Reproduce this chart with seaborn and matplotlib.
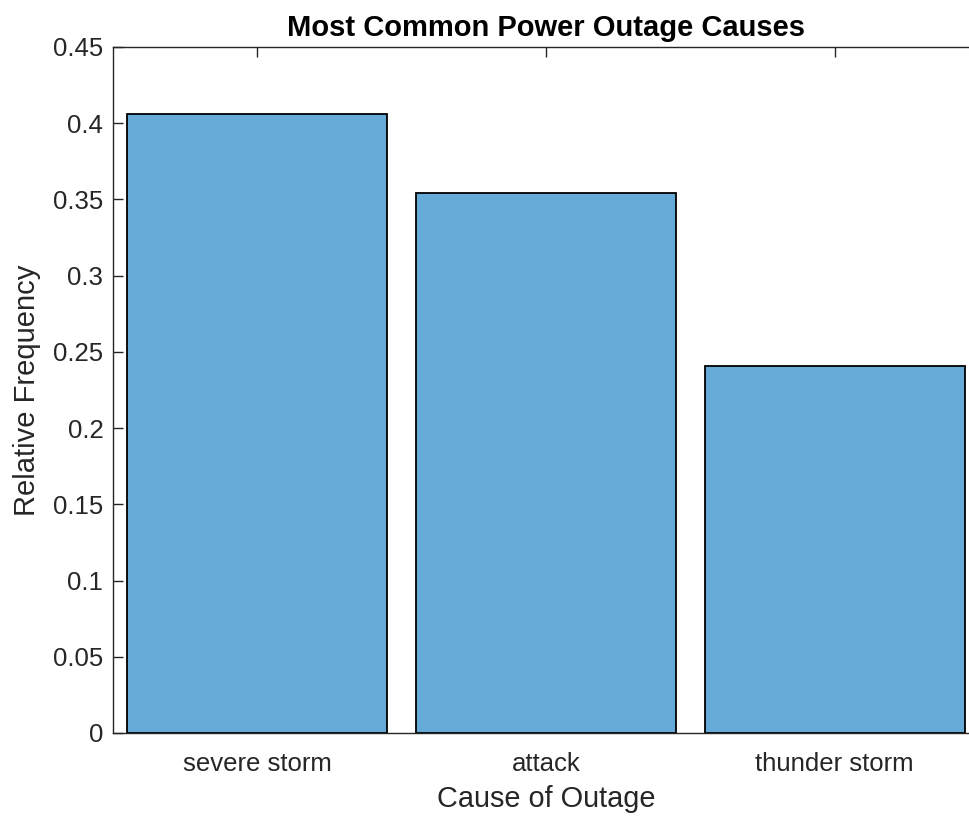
import seaborn as sns
import matplotlib.pyplot as plt
import pandas as pd

# outage causes and their relative frequency
causes = ['severe storm', 'attack', 'thunder storm']
rel_freq = [0.406, 0.354, 0.241]

df = pd.DataFrame({'cause': causes, 'freq': rel_freq})

sns.set_style('white')
plt.rcParams['font.family'] = ['Liberation Sans', 'DejaVu Sans']

grey = '#262626'
fig = plt.figure(figsize=(9.7, 8.16), dpi=100)
# axes runs past the right edge like the cropped original
ax = fig.add_axes([113 / 970, 83 / 816, 866 / 970, 686 / 816])

sns.barplot(data=df, x='cause', y='freq', color='#66aad7', saturation=1,
            width=0.9, edgecolor='black', linewidth=1.3, ax=ax)

ax.set_xlim(-0.5, 2.5)
ax.set_ylim(0, 0.45)
ax.set_yticks([0, 0.05, 0.1, 0.15, 0.2, 0.25, 0.3, 0.35, 0.4, 0.45])
ax.set_yticklabels(['0', '0.05', '0.1', '0.15', '0.2', '0.25', '0.3', '0.35', '0.4', '0.45'])

for s in ax.spines.values():
    s.set_color(grey)
    s.set_linewidth(1.0)
    s.set_zorder(5)

ax.tick_params(axis='both', direction='in', length=7, width=1, color=grey,
               labelcolor=grey, labelsize=18.5, top=True, right=True,
               bottom=True, left=True)
ax.tick_params(axis='y', which='major', right=True, length=7)
ax.tick_params(axis='x', pad=14)
ax.tick_params(axis='y', pad=7)

ax.set_title('Most Common Power Outage Causes', fontsize=21,
             fontweight='bold', color='black', pad=8)
ax.set_xlabel('Cause of Outage', fontsize=20.8, color=grey, labelpad=6)
ax.set_ylabel('Relative Frequency', fontsize=21, color=grey, labelpad=9)

plt.savefig('out.png', dpi=100)
